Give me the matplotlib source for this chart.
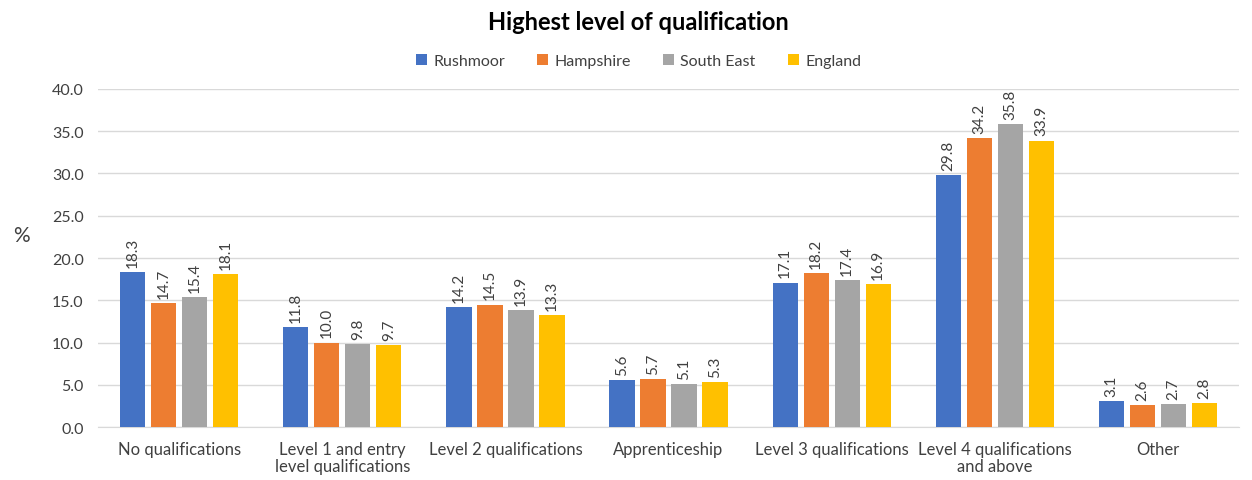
import numpy as np
import matplotlib.pyplot as plt

categories = ["No qualifications", "Level 1 and entry\nlevel qualifications",
              "Level 2 qualifications", "Apprenticeship", "Level 3 qualifications",
              "Level 4 qualifications\nand above", "Other"]
rushmoor = [18.3, 11.8, 14.2, 5.6, 17.1, 29.8, 3.1]
hampshire = [14.7, 10.0, 14.5, 5.7, 18.2, 34.2, 2.6]
south_east = [15.4, 9.8, 13.9, 5.1, 17.4, 35.8, 2.7]
england = [18.1, 9.7, 13.3, 5.3, 16.9, 33.9, 2.8]

series = [("Rushmoor", rushmoor, "#4472C4"),
          ("Hampshire", hampshire, "#ED7D31"),
          ("South East", south_east, "#A5A5A5"),
          ("England", england, "#FFC000")]

plt.rcParams['font.family'] = ['Lato', 'DejaVu Sans']

fig = plt.figure(figsize=(12.52, 4.81), dpi=100)
ax = fig.add_axes([0.078, 0.110, 0.912, 0.703])

x = np.arange(len(categories))
w = 0.155
pitch = 0.19
for i, (name, vals, col) in enumerate(series):
    pos = x + (i - 1.5) * pitch
    bars = ax.bar(pos, vals, width=w, color=col, label=name, zorder=3)
    for b, v in zip(bars, vals):
        ax.text(b.get_x() + b.get_width() / 2, v + 0.6, f"{v:.1f}",
                rotation=90, ha='center', va='bottom', fontsize=11, color='#404040')

ax.set_ylim(0, 40)
ax.set_xlim(-0.5, len(categories) - 0.5)
ax.set_yticks(np.arange(0, 41, 5))
ax.set_yticklabels([f"{t:.1f}" for t in np.arange(0, 41, 5)], fontsize=11.5, color='#404040')
ax.set_xticks(x)
ax.set_xticklabels(categories, fontsize=12, color='#404040', linespacing=1.1)
ax.tick_params(length=0, pad=10)
ax.tick_params(axis='x', pad=10)
ax.grid(axis='y', color='#D9D9D9', linewidth=1, zorder=0)
for s in ['top', 'right', 'left']:
    ax.spines[s].set_visible(False)
ax.spines['bottom'].set_color('#D9D9D9')

fig.text(0.017, 0.51, "%", fontsize=15, color='#404040', ha='center', va='center')
fig.text(0.51, 0.953, "Highest level of qualification", fontsize=17, fontweight='bold',
         ha='center', va='center')
fig.legend(loc='center', bbox_to_anchor=(0.51, 0.871), ncol=4, frameon=False,
           fontsize=11.5, handlelength=0.7, handleheight=0.7, columnspacing=2.0,
           handletextpad=0.4, labelcolor='#404040')

fig.savefig("out.png", dpi=100)
